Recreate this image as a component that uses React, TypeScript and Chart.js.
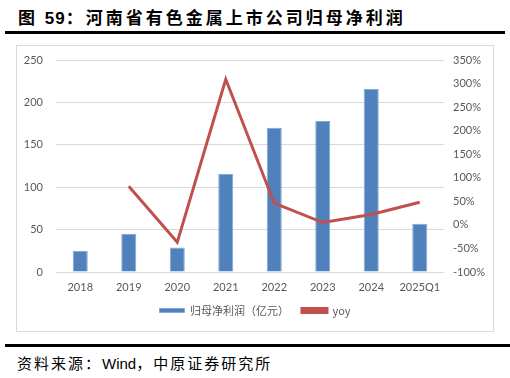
import React, { useEffect, useRef } from "react";
import { Chart, registerables } from "chart.js";

Chart.register(...registerables);

const categories = ["2018", "2019", "2020", "2021", "2022", "2023", "2024", "2025Q1"];
const profit = [25, 45, 29, 116, 170, 178, 216, 57];
const yoy = [null, 82, -37, 309, 46, 5, 22, 48];
const leftTicks = { min: 0, max: 250, step: 50 };
const rightTicks = { min: -100, max: 350, step: 50 };

const tickFont = { family: "Lato, 'Noto Sans', sans-serif", size: 11 };
const tickColor = "#595959";

export default function App() {
  const ref = useRef<HTMLCanvasElement | null>(null);

  useEffect(() => {
    if (!ref.current) return;
    const chart = new Chart(ref.current, {
      type: "bar",
      data: {
        labels: categories,
        datasets: [
          {
            type: "bar",
            label: "归母净利润（亿元）",
            data: profit,
            backgroundColor: "#4F81BD",
            borderColor: "#86a7d4",
            borderWidth: 1,
            barPercentage: 0.31,
            categoryPercentage: 1,
            yAxisID: "y",
            order: 2,
          },
          {
            type: "line",
            label: "yoy",
            data: yoy as any,
            borderColor: "#C0504D",
            backgroundColor: "#C0504D",
            borderWidth: 3,
            pointRadius: 0,
            tension: 0,
            spanGaps: true,
            yAxisID: "y1",
            order: 1,
          },
        ],
      },
      options: {
        responsive: false,
        animation: false,
        layout: { padding: { top: 14, bottom: 5, left: 0, right: 0 } },
        plugins: {
          legend: {
            position: "bottom",
            labels: {
              boxWidth: 25,
              boxHeight: 4,
              padding: 13,
              color: tickColor,
              font: { family: "'Noto Sans CJK SC', sans-serif", size: 11 },
              sort: (a: any, b: any) => a.datasetIndex - b.datasetIndex,
            },
          },
          tooltip: { enabled: false },
        },
        scales: {
          x: {
            grid: { display: false, drawTicks: false },
            border: { display: false },
            ticks: { color: tickColor, font: tickFont, padding: 9, maxRotation: 0 },
            afterFit: (s: any) => { s.height = 20; },
          },
          y: {
            position: "left",
            min: leftTicks.min,
            max: leftTicks.max,
            ticks: { stepSize: leftTicks.step, color: tickColor, font: tickFont, padding: 13 },
            grid: { color: "#d9d9d9", lineWidth: 1, drawTicks: false },
            border: { display: false },
            afterFit: (s: any) => { s.width = 39; s.paddingTop = 0; s.paddingBottom = 0; },
          },
          y1: {
            position: "right",
            min: rightTicks.min,
            max: rightTicks.max,
            ticks: {
              stepSize: rightTicks.step,
              color: tickColor,
              font: tickFont,
              padding: 9,
              callback: (v: any) => v + "%",
            },
            grid: { display: false, drawTicks: false },
            border: { display: false },
            afterFit: (s: any) => { s.width = 49; s.paddingTop = 0; s.paddingBottom = 0; },
          },
        },
      },
    });
    return () => chart.destroy();
  }, []);

  return (
    <div style={{ position: "absolute", left: 0, top: 0, width: 510, height: 378, background: "#fff", fontFamily: "'Noto Sans CJK SC', sans-serif" }}>
      <div style={{ position: "absolute", left: 18, top: 5, fontSize: 17, fontWeight: 700, letterSpacing: 3, color: "#000", lineHeight: "24px", whiteSpace: "nowrap" }}>
        图 <span style={{ fontFamily: "'Liberation Sans', Arial, sans-serif", letterSpacing: 1 }}>59</span>：河南省有色金属上市公司归母净利润
      </div>
      <div style={{ position: "absolute", left: 5, top: 31, width: 500, height: 3, background: "#000" }} />
      <div style={{ position: "absolute", left: 16, top: 45, width: 476, height: 285, border: "1px solid #d9d9d9" }}>
        <canvas ref={ref} width={476} height={285} style={{ display: "block", width: 476, height: 285 }} />
      </div>
      <div style={{ position: "absolute", left: 5, top: 344, width: 505, height: 3, background: "#000" }} />
      <div style={{ position: "absolute", left: 17, top: 352, fontSize: 15, letterSpacing: 2, color: "#000", lineHeight: "22px", whiteSpace: "nowrap" }}>
        资料来源：<span style={{ fontFamily: "'Liberation Sans', Arial, sans-serif", letterSpacing: 0 }}>Wind</span>，中原证券研究所
      </div>
    </div>
  );
}
